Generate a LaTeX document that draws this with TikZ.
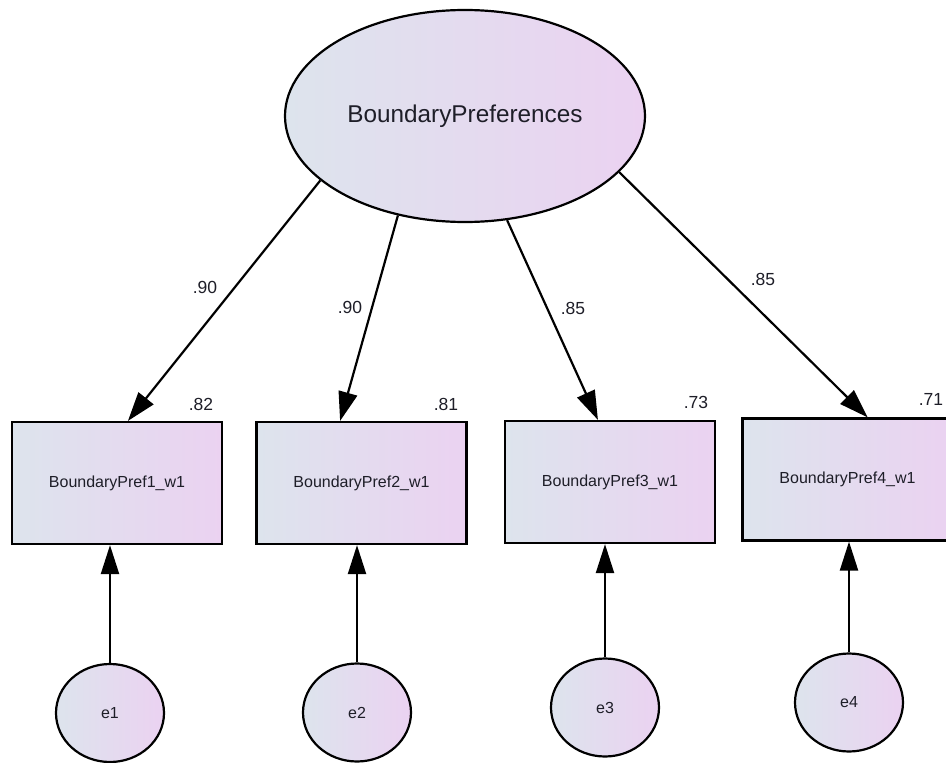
\documentclass[tikz,border=0pt]{standalone}
\usepackage{fontspec}
\setmainfont{Liberation Sans}
\usetikzlibrary{shapes.geometric,arrows.meta}
\definecolor{gradL}{RGB}{221,228,237}
\definecolor{gradR}{RGB}{235,210,241}
\definecolor{txt}{RGB}{30,30,40}
\tikzset{
  grad/.style={left color=gradL,right color=gradR,draw=black,line width=2.2pt,text=txt},
  latent/.style={grad,ellipse,inner sep=0pt},
  obsbox/.style={grad,rectangle,minimum width=210pt,minimum height=122pt,inner sep=0pt,font=\fontsize{16}{19}\selectfont},
  errnode/.style={grad,ellipse,minimum width=108pt,minimum height=98pt,inner sep=0pt,font=\fontsize{16}{19}\selectfont},
  lbl/.style={text=txt,inner sep=0pt,font=\fontsize{17.5}{20}\selectfont},
  conn/.style={line width=2.2pt,-{Triangle[length=29pt,width=19pt]}},
  connup/.style={line width=2.2pt,-{Triangle[length=29pt,width=18pt]}}
}
\begin{document}
\begin{tikzpicture}[x=1pt,y=-1pt]
\clip (0,0) rectangle (946,763);
\fill[white] (0,0) rectangle (946,763);
\node[latent,minimum width=360pt,minimum height=212pt,font=\fontsize{24.3}{28}\selectfont] (L) at (465,116) {BoundaryPreferences};
\node[obsbox] (b1) at (117,483) {BoundaryPref1\_w1};
\node[obsbox] (b2) at (361.5,483) {BoundaryPref2\_w1};
\node[obsbox] (b3) at (610,482) {BoundaryPref3\_w1};
\node[obsbox] (b4) at (847.5,479.5) {BoundaryPref4\_w1};
\node[errnode] (e1) at (110,713) {e1};
\node[errnode] (e2) at (357,712.5) {e2};
\node[errnode] (e3) at (605,707.5) {e3};
\node[errnode] (e4) at (849,702.5) {e4};
\draw[conn] (L.204) -- (b1.80);
\draw[conn] (L.236) -- (b2.109);
\draw[conn] (L.292) -- (b3.101);
\draw[conn] (L.340) -- (b4.72);
\draw[connup] (e1.north) -- (e1.north |- b1.south);
\draw[connup] (e2.north) -- (e2.north |- b2.south);
\draw[connup] (e3.north) -- (e3.north |- b3.south);
\draw[connup] (e4.north) -- (e4.north |- b4.south);
\node[lbl] (l1) at (205,287) {.90};
\node[lbl] (l2) at (350,307) {.90};
\node[lbl] (l3) at (573,308) {.85};
\node[lbl] (l4) at (763,279) {.85};
\node[lbl] (r1) at (201,404) {.82};
\node[lbl] (r2) at (446,404) {.81};
\node[lbl] (r3) at (696,402) {.73};
\node[lbl] (r4) at (931,399) {.71};
\end{tikzpicture}
\end{document}
